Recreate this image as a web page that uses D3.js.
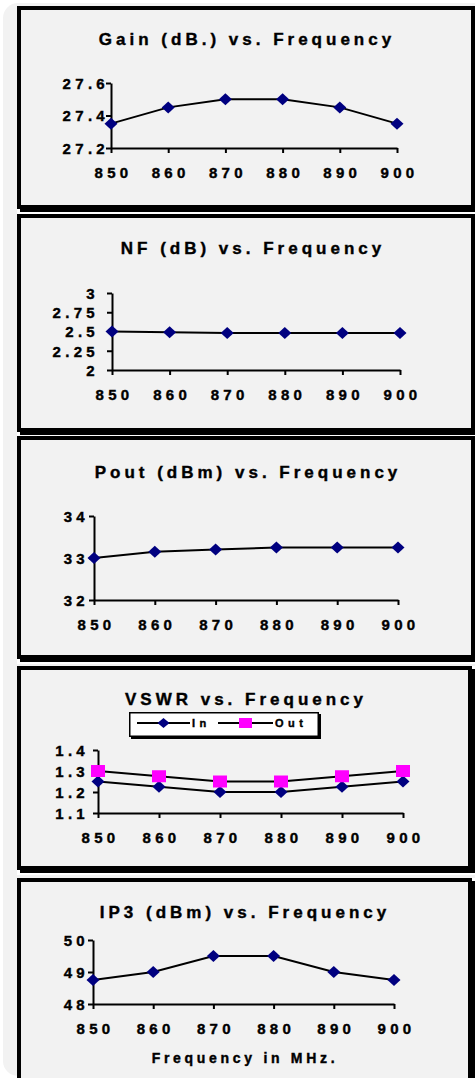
<!DOCTYPE html>
<html>
<head>
<meta charset="utf-8">
<script src="https://cdn.jsdelivr.net/npm/d3@7"></script>
<style>
  body { margin: 0; background: #fff; }
  svg { display: block; }
  text { font-family: "Liberation Sans", Arial, sans-serif; font-weight: bold; fill: #000; stroke: #000; stroke-width: 0.4px; }
</style>
</head>
<body>
<svg id="chart" width="475" height="1078"></svg>
<script>
// data
const freqs = [850, 860, 870, 880, 890, 900];
const gain = [27.35, 27.45, 27.5, 27.5, 27.45, 27.35];
const nf = [2.5, 2.49, 2.48, 2.48, 2.48, 2.48];
const pout = [33.0, 33.15, 33.2, 33.25, 33.25, 33.25];
const vswrIn = [1.25, 1.225, 1.2, 1.2, 1.225, 1.25];
const vswrOut = [1.3, 1.275, 1.25, 1.25, 1.275, 1.3];
const ip3 = [48.75, 49, 49.5, 49.5, 49, 48.75];

const gainTicks = [27.2, 27.4, 27.6];
const nfTicks = [2, 2.25, 2.5, 2.75, 3];
const poutTicks = [32, 33, 34];
const vswrTicks = [1.1, 1.2, 1.3, 1.4];
const ip3Ticks = [48, 49, 50];

const titles = [
  "Gain (dB.) vs. Frequency",
  "NF (dB) vs. Frequency",
  "Pout (dBm) vs. Frequency",
  "VSWR vs. Frequency",
  "IP3 (dBm) vs. Frequency"
];
const legendNames = ["In", "Out"];
const xTitle = "Frequency in MHz.";

// layout of each framed chart
const panels = [
  { title: titles[0], series: [{ values: gain, marker: "diamond" }], ticks: gainTicks,
    top: 6, bottom: 212, right: 478, x0: 111, x1: 397, yTop: 83, yBot: 148, titleX: 245, titleY: 45, yPad: 1 },
  { title: titles[1], series: [{ values: nf, marker: "diamond" }], ticks: nfTicks,
    top: 214, bottom: 435, right: 478, x0: 112, x1: 400, yTop: 293, yBot: 370, titleX: 251, titleY: 254, yPad: 12 },
  { title: titles[2], series: [{ values: pout, marker: "diamond" }], ticks: poutTicks,
    top: 436, bottom: 662, right: 478, x0: 94, x1: 398, yTop: 516, yBot: 600, titleX: 246, titleY: 478, yPad: 4 },
  { title: titles[3], series: [{ values: vswrIn, marker: "diamond" }, { values: vswrOut, marker: "square" }],
    ticks: vswrTicks, legend: true,
    top: 666, bottom: 873, right: 475, x0: 98, x1: 403, yTop: 750, yBot: 813, titleX: 244, titleY: 705, yPad: 8 },
  { title: titles[4], series: [{ values: ip3, marker: "diamond" }], ticks: ip3Ticks, xTitle: xTitle,
    top: 878, bottom: 1100, right: 475, x0: 93, x1: 394, yTop: 940, yBot: 1004, titleX: 243, titleY: 918, yPad: 3 }
];

const svg = d3.select("#chart");

svg.append("rect")
  .attr("x", 3).attr("y", 3)
  .attr("width", 500).attr("height", 1073)
  .attr("rx", 15)
  .attr("fill", "#f2f2f2");

function drawMarker(g, type, x, y, w, h) {
  if (type === "diamond") {
    g.append("path")
      .attr("d", `M${x},${y - h / 2}L${x + w / 2},${y}L${x},${y + h / 2}L${x - w / 2},${y}Z`)
      .attr("fill", "#000080");
  } else {
    g.append("rect")
      .attr("x", x - w / 2).attr("y", y - h / 2)
      .attr("width", w).attr("height", h)
      .attr("fill", "#ff00ff");
  }
}

panels.forEach(p => {
  let g = svg.append("g");
  let left = 17;
  let sh = 3, bw = 4;

  // frame with drop shadow
  g.append("rect")
    .attr("x", left).attr("y", p.top)
    .attr("width", p.right - left).attr("height", p.bottom - p.top + 2)
    .attr("fill", "#fff");
  g.append("rect")
    .attr("x", left + sh).attr("y", p.top + sh)
    .attr("width", p.right - left - sh).attr("height", p.bottom - p.top - sh)
    .attr("fill", "#000");
  g.append("rect")
    .attr("x", left + bw / 2).attr("y", p.top + bw / 2)
    .attr("width", p.right - sh - left - bw).attr("height", p.bottom - sh - p.top - bw)
    .attr("fill", "#f2f2f2")
    .attr("stroke", "#000")
    .attr("stroke-width", bw);

  g.append("text")
    .attr("x", p.titleX + 2)
    .attr("y", p.titleY)
    .attr("text-anchor", "middle")
    .style("font-size", "17px")
    .style("letter-spacing", "4px")
    .text(p.title);

  let x = d3.scaleLinear().domain(d3.extent(freqs)).range([p.x0, p.x1]);
  let y = d3.scaleLinear().domain(d3.extent(p.ticks)).range([p.yBot, p.yTop]);

  let xAxis = d3.axisBottom(x).tickValues(freqs).tickSizeInner(5).tickSizeOuter(0).tickPadding(14);
  let yAxis = d3.axisLeft(y).tickValues(p.ticks).tickSizeInner(5).tickSizeOuter(0)
    .tickPadding(p.yPad).tickFormat(d => String(d));

  let xg = g.append("g")
    .attr("transform", "translate(0," + p.yBot + ")")
    .call(xAxis);
  let yg = g.append("g")
    .attr("transform", "translate(" + p.x0 + ",0)")
    .call(yAxis);

  [xg, yg].forEach(a => {
    a.attr("font-family", null).attr("font-size", null);
    a.select(".domain").attr("stroke", "#000").attr("stroke-width", 2);
    a.selectAll(".tick line").attr("stroke", "#000").attr("stroke-width", 2);
    a.selectAll(".tick text")
      .attr("fill", "#000")
      .style("font-size", "15px")
      .style("letter-spacing", "4.3px");
  });
  xg.selectAll(".tick text").attr("dx", "2px");
  yg.selectAll(".tick text").attr("dx", "4px").attr("dy", "0.36em");

  let line = d3.line()
    .x((d, i) => x(freqs[i]))
    .y(d => y(d));

  p.series.forEach(s => {
    g.append("path")
      .datum(s.values)
      .attr("d", line)
      .attr("fill", "none")
      .attr("stroke", "#000")
      .attr("stroke-width", 2);
  });
  p.series.forEach(s => {
    s.values.forEach((v, i) => {
      if (s.marker === "diamond") drawMarker(g, "diamond", x(freqs[i]), y(v), 13, 12);
      else drawMarker(g, "square", x(freqs[i]), y(v), 14, 12);
    });
  });

  if (p.legend) {
    let lg = g.append("g");
    lg.append("rect")
      .attr("x", 131).attr("y", 714)
      .attr("width", 190).attr("height", 25)
      .attr("fill", "#000");
    lg.append("rect")
      .attr("x", 129.75).attr("y", 712.75)
      .attr("width", 188.5).attr("height", 23.5)
      .attr("fill", "#fff")
      .attr("stroke", "#000")
      .attr("stroke-width", 1.5);
    let items = [
      { name: legendNames[0], marker: "diamond", x1: 137, x2: 190, tx: 192 },
      { name: legendNames[1], marker: "square", x1: 218, x2: 273, tx: 275 }
    ];
    items.forEach(it => {
      lg.append("line")
        .attr("x1", it.x1).attr("x2", it.x2)
        .attr("y1", 723).attr("y2", 723)
        .attr("stroke", "#000").attr("stroke-width", 2);
      if (it.marker === "diamond") drawMarker(lg, "diamond", (it.x1 + it.x2) / 2, 723, 12, 10);
      else drawMarker(lg, "square", (it.x1 + it.x2) / 2, 723, 13, 10);
      lg.append("text")
        .attr("x", it.tx).attr("y", 727)
        .style("font-size", "11px")
        .style("letter-spacing", "4.5px")
        .text(it.name);
    });
  }

  if (p.xTitle) {
    g.append("text")
      .attr("x", 245)
      .attr("y", 1063)
      .attr("text-anchor", "middle")
      .style("font-size", "14px")
      .style("letter-spacing", "3.7px")
      .text(p.xTitle);
  }
});
</script>
</body>
</html>
